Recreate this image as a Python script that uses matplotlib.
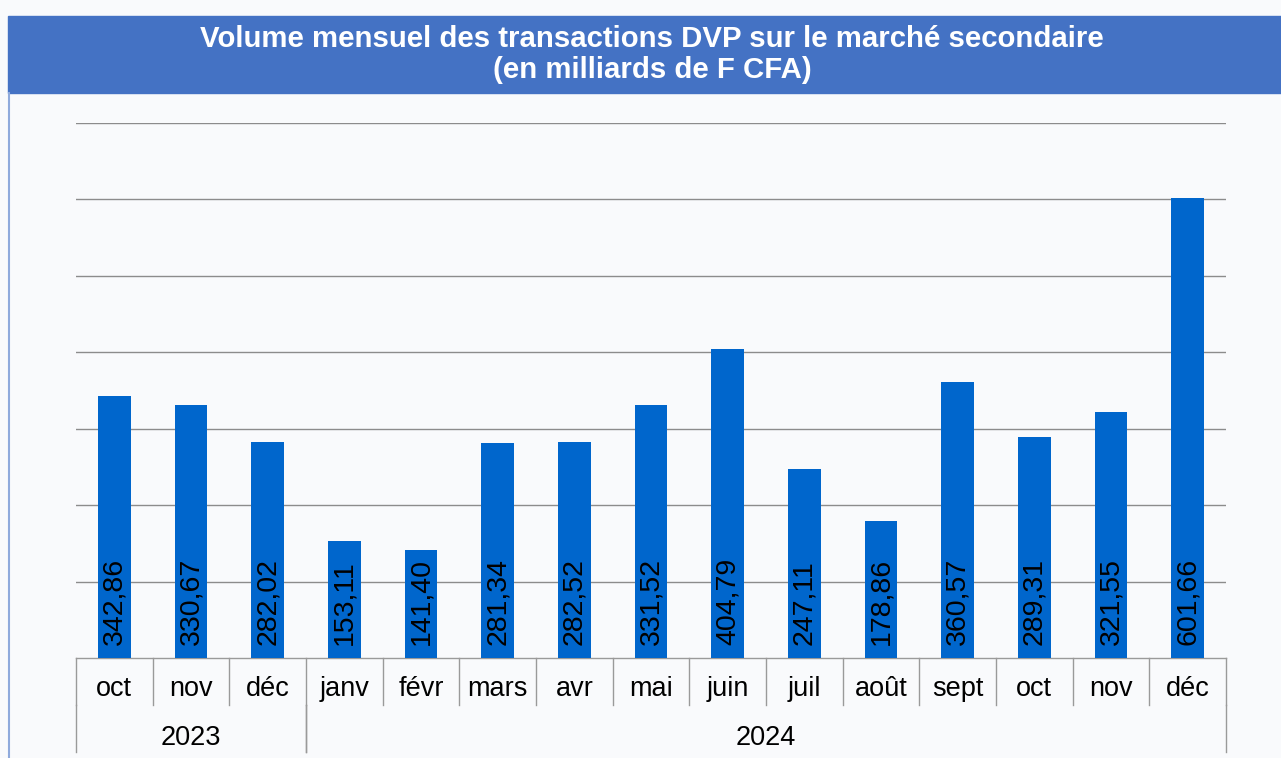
import matplotlib.pyplot as plt
from matplotlib.patches import Rectangle

months = ["oct", "nov", "déc", "janv", "févr", "mars", "avr", "mai",
          "juin", "juil", "août", "sept", "oct", "nov", "déc"]
values = [342.86, 330.67, 282.02, 153.11, 141.40, 281.34, 282.52, 331.52,
          404.79, 247.11, 178.86, 360.57, 289.31, 321.55, 601.66]
years = ["2023", "2024"]
year_spans = [(0, 3), (3, 15)]
title = "Volume mensuel des transactions DVP sur le marché secondaire\n(en milliards de F CFA)"

W, H = 1281, 758
plt.rcParams['font.family'] = ['Liberation Sans', 'DejaVu Sans']

fig = plt.figure(figsize=(W / 100, H / 100), dpi=100, facecolor='#f9fafc')

# title band
fig.patches.append(Rectangle((8 / W, 1 - 93 / H), 1 - 8 / W, 77 / H,
                             transform=fig.transFigure, color='#4472c4', zorder=0))
fig.add_artist(plt.Line2D([8.5 / W, 8.5 / W], [0, 1 - 93 / H], transform=fig.transFigure,
                          color='#8faadc', lw=1.5))
fig.text(652 / W, 1 - 54.5 / H, title, ha='center', va='center', color='white',
         fontsize=21.2, fontweight='bold', linespacing=1.18)

x0, x1, yb, yt = 76, 1226, 658, 123
ax = fig.add_axes([x0 / W, 1 - yb / H, (x1 - x0) / W, (yb - yt) / H])
ax.set_facecolor('none')
ax.set_xlim(-0.5, len(months) - 0.5)
ax.set_ylim(0, 700)
for s in ax.spines.values():
    s.set_visible(False)
ax.set_xticks([])
ax.set_yticks([])
for g in range(100, 701, 100):
    ax.axhline(g, color='#8c8c8c', lw=1, zorder=1)
ax.axhline(0, color='#9a9a9a', lw=1, zorder=1, clip_on=False)

xs = list(range(len(months)))
ax.bar(xs, values, width=0.43, color='#0066cc', zorder=2)
for x, v in zip(xs, values):
    ax.annotate(f"{v:.2f}".replace('.', ','), (x, 0), xytext=(0, 9.5),
                textcoords='offset points', rotation=90, ha='center', va='bottom',
                fontsize=20.5, color='black', zorder=3)

ph = yb - yt
mb = -(705 - yb) / ph
yb2 = -(752 - yb) / ph
tr = ax.get_xaxis_transform()
for i in range(len(months) + 1):
    ax.plot([i - 0.5, i - 0.5], [0, mb], transform=tr, color='#9a9a9a', lw=1, clip_on=False)
for x, m in zip(xs, months):
    ax.text(x, -(689 - yb) / ph, m, transform=tr, ha='center', va='center', fontsize=19.5)
for (a, b), y in zip(year_spans, years):
    ax.plot([a - 0.5, a - 0.5], [mb, yb2], transform=tr, color='#9a9a9a', lw=1, clip_on=False)
    ax.plot([b - 0.5, b - 0.5], [mb, yb2], transform=tr, color='#9a9a9a', lw=1, clip_on=False)
    ax.text((a + b - 1) / 2, -(738 - yb) / ph, y, transform=tr, ha='center', va='center',
            fontsize=19.5)

fig.savefig('out.png', dpi=100, facecolor=fig.get_facecolor())
